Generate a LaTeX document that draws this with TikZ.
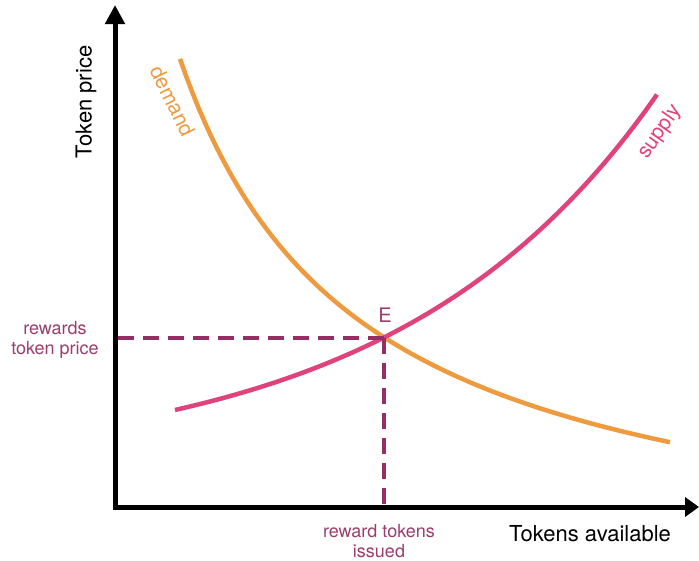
\documentclass[tikz,border=0pt]{standalone}
\usepackage{fontspec}
\setmainfont{TeX Gyre Heros}
\usepackage{xcolor}
\usepackage{tikz}
\usetikzlibrary{positioning,calc,arrows.meta}

\definecolor{demandorange}{HTML}{EE9B3F}
\definecolor{supplypink}{HTML}{E0437C}
\definecolor{guidepurple}{HTML}{952F63}
\definecolor{labelpurple}{HTML}{9A3D6E}

\begin{document}
\begin{tikzpicture}[x=1pt,y=-1pt,
    axis/.style={line width=5pt,{Triangle[length=19pt,width=19pt]}-{Triangle[length=14pt,width=19pt]}},
    curve/.style={line width=4.5pt},
    guide/.style={line width=4pt,guidepurple,dash pattern=on 16pt off 9pt},
    axislabel/.style={font=\fontsize{22}{26}\selectfont,inner sep=0pt},
    curvelabel/.style={font=\fontsize{21}{25}\selectfont,inner sep=0pt},
    eqlabel/.style={font=\fontsize{18}{20}\selectfont,text=labelpurple,align=center,inner sep=0pt}]

    \useasboundingbox (0,0) rectangle (699,560);

    % Axes
    \coordinate (O) at (115,507);
    \coordinate (ytip) at (115,5);
    \coordinate (xtip) at (699,507);
    \draw[axis] (ytip) -- (O) -- (xtip);
    \node[axislabel, rotate=90] (price) at (86,102) {Token price};
    \node[axislabel, anchor=base] (tokens) at (590,541) {Tokens available};

    % Demand and supply
    \draw[curve, demandorange] plot[domain=180:670, samples=80] (\x, {583-943.4/(\x/100)});
    \draw[curve, supplypink] plot[domain=175:657, samples=80] (\x, {469.1-59.13*exp(0.003837*(\x-175))});
    \node[curvelabel, text=demandorange, rotate=-64] (demand) at (173,101) {demand};
    \node[curvelabel, text=supplypink, rotate=55] (supply) at (660,132) {supply};

    % Equilibrium
    \coordinate (E) at (384,338);
    \node[eqlabel, font=\fontsize{20}{24}\selectfont] (elabel) at (385,315) {E};
    \draw[guide] (E) -- (E -| O);
    \draw[guide] (E) -- (E |- O);
    \node[eqlabel] (price-E) at (55,340) {rewards\\token price};
    \node[eqlabel] (tokens-E) at (379,541) {reward tokens\\issued};
\end{tikzpicture}
\end{document}
